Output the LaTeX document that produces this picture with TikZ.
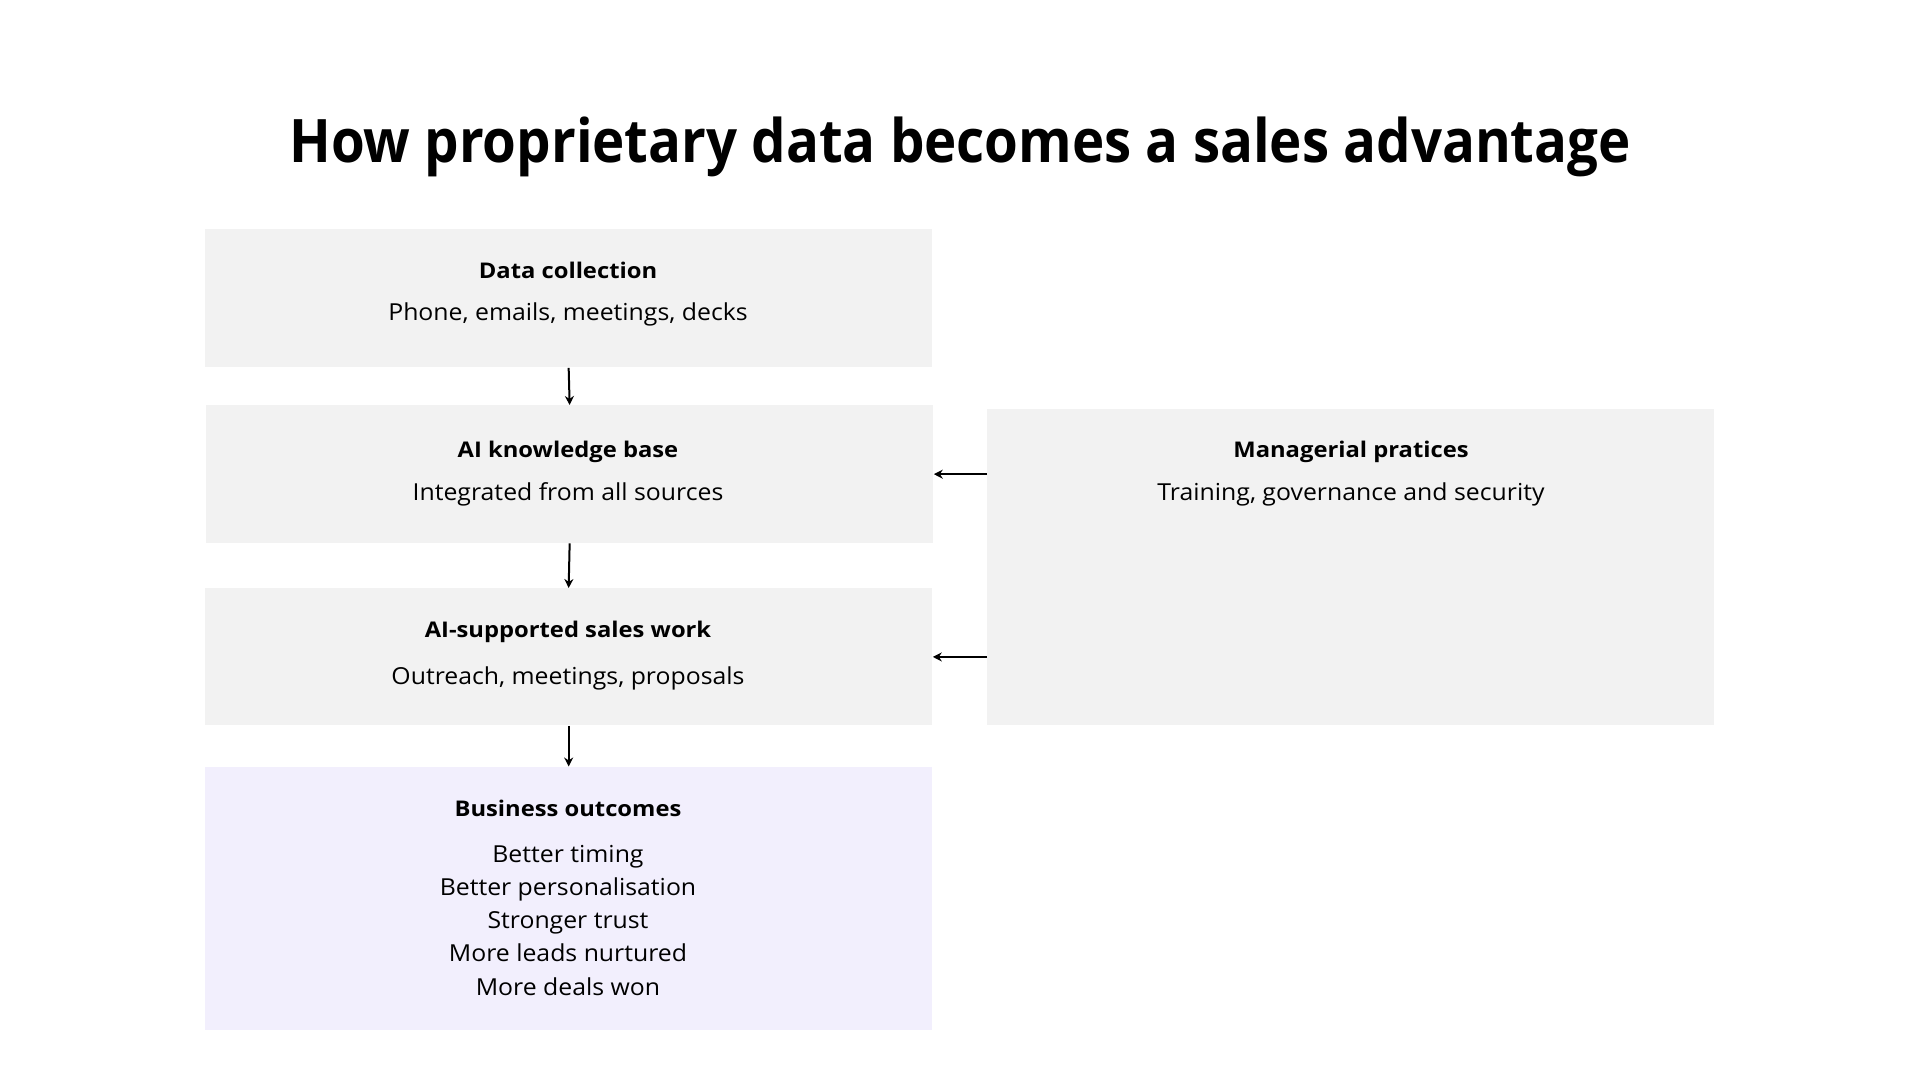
\documentclass[tikz,border=0pt]{standalone}
\usepackage{fontspec}
\setmainfont{Open Sans}
\newfontfamily\titlefont[FakeStretch=0.91]{Open Sans Bold}
\newfontfamily\hdfont[FakeStretch=1.1]{Open Sans Bold}
\newfontfamily\subfont[FakeStretch=1.06]{Open Sans}
\usetikzlibrary{arrows.meta}
\definecolor{boxgray}{HTML}{F2F2F2}
\definecolor{lav}{HTML}{F2EFFD}
\tikzset{
  box/.style={fill=#1, draw=none, inner sep=0pt, anchor=north west},
  hd/.style={anchor=base, font=\hdfont\fontsize{10.8}{13}\selectfont, inner sep=0pt},
  sub/.style={anchor=base, font=\subfont\fontsize{11.7}{16.5}\selectfont, inner sep=0pt},
  conn/.style={line width=1pt, -{Stealth[length=4.5pt,width=4.5pt]}}
}
\begin{document}
\begin{tikzpicture}[x=0.5pt,y=-0.5pt]
\useasboundingbox (0,0) rectangle (1920,1080);
\fill[white] (0,0) rectangle (1920,1080);
\node[anchor=base, inner sep=0pt, font=\titlefont\fontsize{30}{36}\selectfont] (title) at (960,163) {How proprietary data becomes a sales advantage};
% boxes
\node[box=boxgray, minimum width=727.5*0.5pt, minimum height=138*0.5pt] (b1) at (204.5,229) {};
\node[box=boxgray, minimum width=727.5*0.5pt, minimum height=137.5*0.5pt] (b2) at (205.5,405) {};
\node[box=boxgray, minimum width=727.5*0.5pt, minimum height=137*0.5pt] (b3) at (204.5,588) {};
\node[box=lav, minimum width=727.5*0.5pt, minimum height=263.5*0.5pt] (b4) at (204.5,766.5) {};
\node[box=boxgray, minimum width=727*0.5pt, minimum height=316*0.5pt] (b5) at (987,409) {};
% texts
\node[hd] (h1) at (568,279) {Data collection};
\node[sub] (s1) at (568,321) {Phone, emails, meetings, decks};
\node[hd] (h2) at (568,457) {AI knowledge base};
\node[sub] (s2) at (568,500) {Integrated from all sources};
\node[hd] (h3) at (568,637) {AI-supported sales work};
\node[sub] (s3) at (568,684) {Outreach, meetings, proposals};
\node[hd] (h4) at (568,816) {Business outcomes};
\node[sub] (o1) at (568,862.7) {Better timing};
\node[sub] (o2) at (568,895.7) {Better personalisation};
\node[sub] (o3) at (568,928.8) {Stronger trust};
\node[sub] (o4) at (568,961.9) {More leads nurtured};
\node[sub] (o5) at (568,995) {More deals won};
\node[hd] (h5) at (1351,457) {Managerial pratices};
\node[sub] (s5) at (1351,500) {Training, governance and security};
% connectors
\draw[conn] (b1.south) -- (b2.north);
\draw[conn] (b2.south) -- (b3.north);
\draw[conn] (b3.south) -- (b4.north);
\draw[conn] (b5.west |- b2.east) -- (b2.east);
\draw[conn] (b5.west |- b3.east) -- (b3.east);
\end{tikzpicture}
\end{document}
